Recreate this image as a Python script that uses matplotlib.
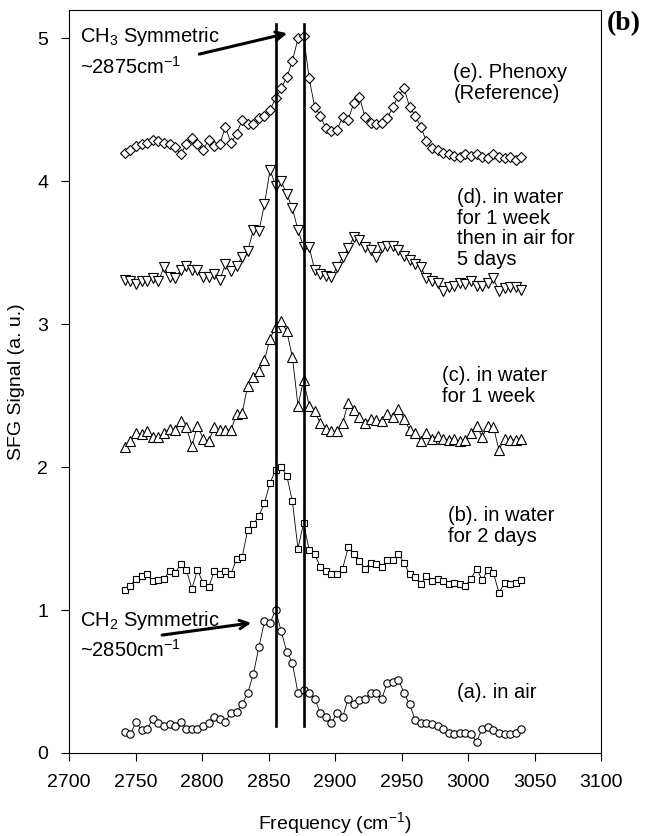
import numpy as np
import matplotlib
matplotlib.use('Agg')
import matplotlib.pyplot as plt

plt.rcParams['font.family'] = ['Liberation Sans', 'DejaVu Sans']
plt.rcParams['mathtext.fontset'] = 'custom'
plt.rcParams['mathtext.rm'] = 'Liberation Sans'
plt.rcParams['mathtext.it'] = 'Liberation Sans:italic'
plt.rcParams['mathtext.default'] = 'regular'

# frequency grid of the scans (cm-1)
freq = np.linspace(2742, 3040, 72)

# (a) in air
sig_a = [0.15, 0.13, 0.22, 0.16, 0.17, 0.24, 0.21, 0.19, 0.20, 0.19,
         0.22, 0.17, 0.17, 0.17, 0.19, 0.21, 0.25, 0.24, 0.22, 0.28,
         0.29, 0.34, 0.42, 0.55, 0.74, 0.92, 0.91, 1.00, 0.85, 0.71,
         0.63, 0.42, 0.44, 0.42, 0.38, 0.28, 0.25, 0.21, 0.28, 0.25,
         0.38, 0.34, 0.37, 0.38, 0.42, 0.42, 0.38, 0.49, 0.50, 0.51,
         0.42, 0.34, 0.23, 0.21, 0.21, 0.20, 0.19, 0.17, 0.14, 0.13,
         0.14, 0.14, 0.13, 0.08, 0.17, 0.18, 0.16, 0.14, 0.13, 0.13,
         0.14, 0.17]
# (b) in water for 2 days
sig_b = [1.14, 1.17, 1.22, 1.24, 1.25, 1.20, 1.21, 1.22, 1.27, 1.26,
         1.32, 1.28, 1.15, 1.28, 1.19, 1.16, 1.27, 1.25, 1.27, 1.25,
         1.36, 1.37, 1.56, 1.60, 1.66, 1.75, 1.89, 1.98, 2.00, 1.94,
         1.76, 1.43, 1.61, 1.42, 1.39, 1.30, 1.27, 1.25, 1.25, 1.29,
         1.44, 1.39, 1.34, 1.29, 1.33, 1.32, 1.30, 1.35, 1.35, 1.39,
         1.33, 1.25, 1.23, 1.18, 1.24, 1.20, 1.22, 1.20, 1.18, 1.19,
         1.18, 1.17, 1.22, 1.29, 1.21, 1.28, 1.26, 1.12, 1.19, 1.18,
         1.19, 1.21]
# (c) in water for 1 week
sig_c = [2.14, 2.18, 2.24, 2.23, 2.25, 2.21, 2.21, 2.24, 2.27, 2.26,
         2.32, 2.28, 2.15, 2.29, 2.20, 2.18, 2.28, 2.26, 2.26, 2.26,
         2.37, 2.38, 2.57, 2.63, 2.67, 2.75, 2.90, 2.98, 3.02, 2.95,
         2.77, 2.43, 2.61, 2.43, 2.39, 2.31, 2.27, 2.25, 2.25, 2.31,
         2.45, 2.40, 2.35, 2.31, 2.34, 2.33, 2.32, 2.37, 2.35, 2.41,
         2.34, 2.26, 2.24, 2.18, 2.24, 2.20, 2.22, 2.20, 2.19, 2.20,
         2.18, 2.19, 2.24, 2.29, 2.21, 2.29, 2.28, 2.12, 2.20, 2.19,
         2.19, 2.20]
# (d) in water for 1 week then in air for 5 days
sig_d = [3.31, 3.30, 3.28, 3.30, 3.30, 3.32, 3.30, 3.40, 3.33, 3.32,
         3.38, 3.41, 3.38, 3.38, 3.33, 3.33, 3.35, 3.31, 3.42, 3.37,
         3.41, 3.47, 3.51, 3.66, 3.65, 3.84, 4.08, 3.97, 4.00, 3.91,
         3.81, 3.66, 3.54, 3.54, 3.38, 3.35, 3.34, 3.33, 3.40, 3.47,
         3.53, 3.61, 3.59, 3.54, 3.52, 3.47, 3.54, 3.55, 3.55, 3.52,
         3.48, 3.45, 3.42, 3.40, 3.32, 3.30, 3.29, 3.23, 3.26, 3.27,
         3.29, 3.28, 3.30, 3.27, 3.27, 3.29, 3.32, 3.23, 3.25, 3.26,
         3.26, 3.24]
# (e) phenoxy reference
sig_e = [4.20, 4.22, 4.25, 4.26, 4.27, 4.29, 4.28, 4.27, 4.26, 4.24,
         4.19, 4.26, 4.30, 4.26, 4.22, 4.29, 4.25, 4.26, 4.38, 4.27,
         4.33, 4.43, 4.40, 4.40, 4.44, 4.46, 4.50, 4.58, 4.65, 4.73,
         4.84, 5.00, 5.02, 4.72, 4.52, 4.46, 4.37, 4.35, 4.36, 4.45,
         4.43, 4.55, 4.59, 4.45, 4.41, 4.40, 4.41, 4.44, 4.52, 4.60,
         4.65, 4.52, 4.46, 4.38, 4.28, 4.23, 4.22, 4.20, 4.19, 4.18,
         4.17, 4.19, 4.18, 4.19, 4.17, 4.16, 4.19, 4.17, 4.16, 4.17,
         4.15, 4.17]

labels = ['(a). in air',
          '(b). in water\nfor 2 days',
          '(c). in water\nfor 1 week',
          '(d). in water\nfor 1 week\nthen in air for\n5 days',
          '(e). Phenoxy\n(Reference)']
peaks = [2855.5, 2877]

fig = plt.figure(figsize=(6.45, 8.36), dpi=100)
ax = fig.add_axes([0.107, 0.0993, 0.825, 0.889])

series = [(sig_a, 'o', 5.3), (sig_b, 's', 5.0), (sig_c, '^', 6.6),
          (sig_d, 'v', 6.6), (sig_e, 'D', 5.2)]
for sig, mk, ms in series:
    ax.plot(freq, sig, color='black', lw=0.6, marker=mk, ms=ms,
            mfc='white', mec='black', mew=0.8, zorder=2)

for p in peaks:
    ax.plot([p, p], [0.19, 5.1], color='black', lw=1.9, zorder=3)

# sample labels
lab_pos = [(2992, 0.42), (2985, 1.59), (2980, 2.57), (2992, 3.67), (2989, 4.69)]
for (x, y), txt in zip(lab_pos, labels):
    ax.text(x, y, txt, fontsize=14.5, ha='left', va='center', linespacing=1.12)

# peak assignments
ax.text(2708, 5.01, 'CH$_3$ Symmetric', fontsize=14.5, va='center')
ax.text(2708, 4.80, '~2875cm$^{-1}$', fontsize=14.5, va='center')
ax.annotate('', xy=(2864, 5.035), xytext=(2798, 4.89),
            arrowprops=dict(arrowstyle='->,head_length=0.6,head_width=0.3',
                            lw=2.2, color='black', shrinkA=0, shrinkB=0))
ax.text(2708, 0.93, 'CH$_2$ Symmetric', fontsize=14.5, va='center')
ax.text(2708, 0.72, '~2850cm$^{-1}$', fontsize=14.5, va='center')
ax.annotate('', xy=(2837, 0.91), xytext=(2770, 0.825),
            arrowprops=dict(arrowstyle='->,head_length=0.6,head_width=0.3',
                            lw=2.2, color='black', shrinkA=0, shrinkB=0))

ax.set_xlim(2700, 3100)
ax.set_ylim(0, 5.2)
ax.set_xticks(np.arange(2700, 3101, 50))
ax.set_yticks([0, 1, 2, 3, 4, 5])
ax.tick_params(direction='out', length=6, width=0.8, labelsize=14)
ax.tick_params(axis='x', pad=9)
ax.tick_params(axis='y', pad=9)
for s in ax.spines.values():
    s.set_linewidth(0.8)

ax.set_xlabel('Frequency (cm$^{-1}$)', fontsize=14, labelpad=14)
ax.set_ylabel('SFG Signal (a. u.)', fontsize=14, labelpad=9)

fig.text(0.941, 0.972, '(b)', fontsize=20, fontweight='bold',
         family='Liberation Serif', ha='left', va='center')

fig.savefig('out.png', dpi=100)
